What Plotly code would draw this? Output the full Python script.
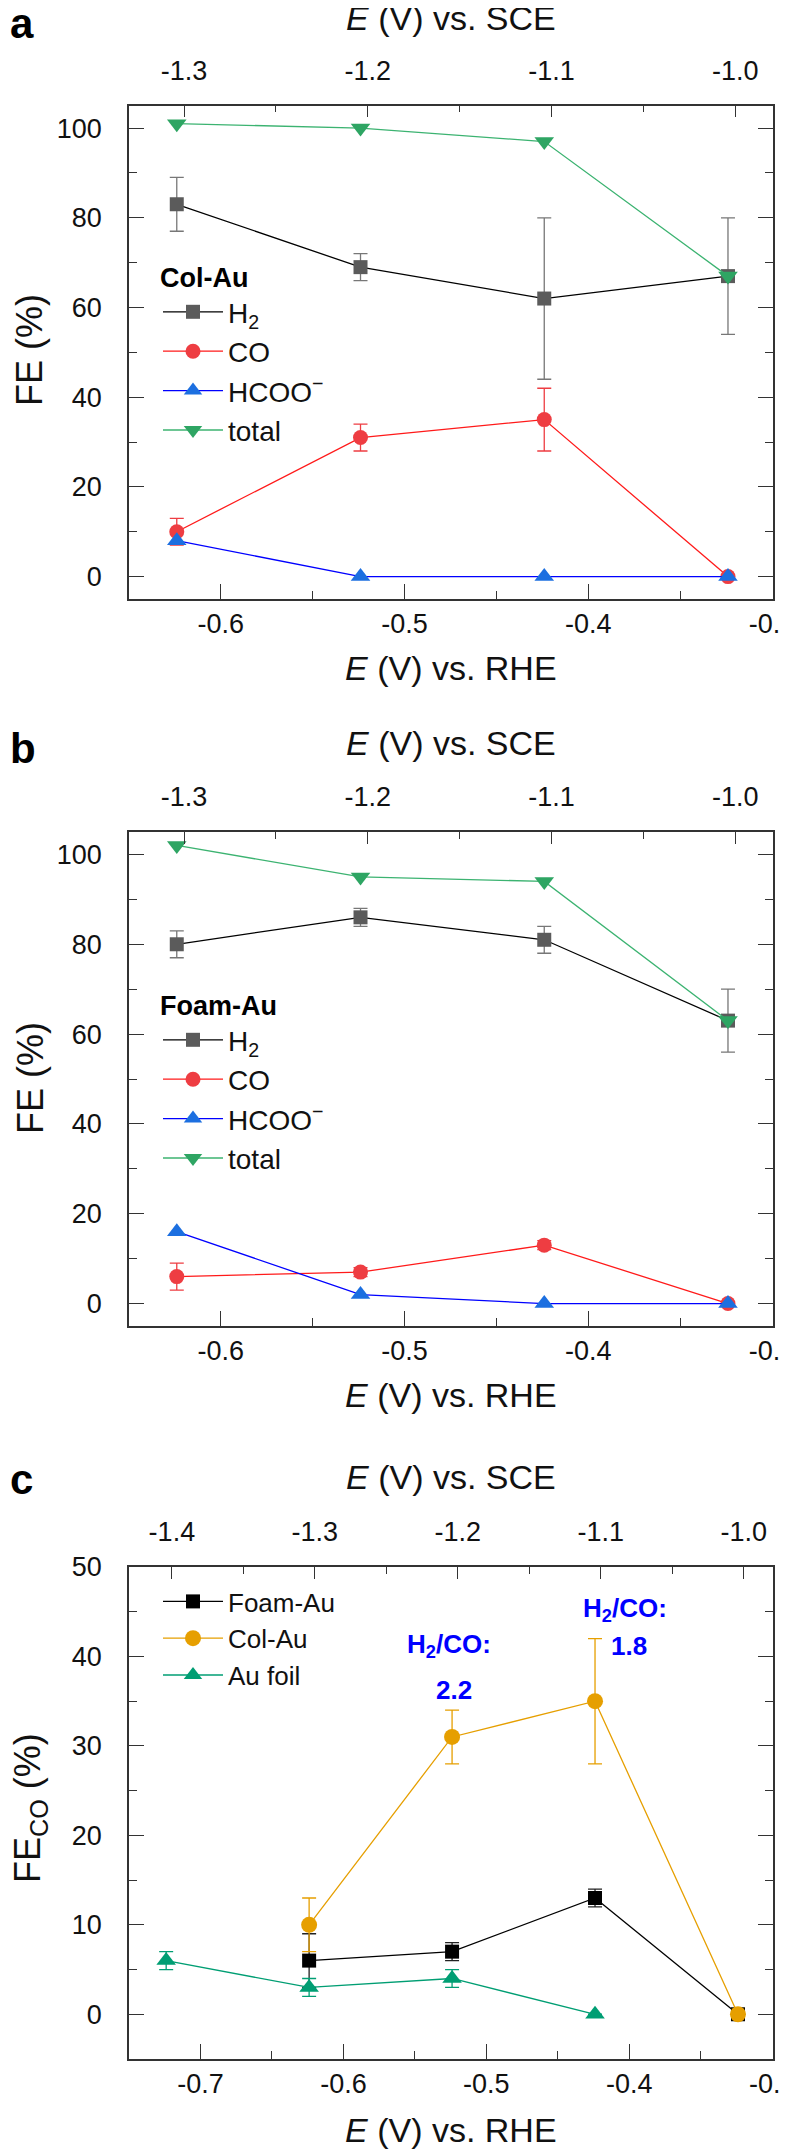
import plotly.graph_objects as go

W, H = 788, 2150

# ---------------- data ----------------
RHE = [-0.624, -0.524, -0.424, -0.324]          # E vs RHE (V)
RHE_FOIL = [-0.724, -0.624, -0.524, -0.424]     # Au foil potentials
SCE_OFFSET = 0.68                               # E(SCE) = E(RHE) - offset

# panel a : Col-Au
a_h2 = [83, 69, 62, 67]
a_h2_err = [6, 3, 18, 13]
a_co = [10, 31, 35, 0]
a_co_err = [3, 3, 7, 0]
a_hcoo = [8, 0, 0, 0]
a_total = [101, 100, 97, 67]

# panel b : Foam-Au
b_h2 = [80, 86, 81, 63]
b_h2_err = [3, 2, 3, 7]
b_co = [6, 7, 13, 0]
b_co_err = [3, 1, 1, 0]
b_hcoo = [16, 2, 0, 0]
b_total = [102, 95, 94, 63]

# panel c : FE_CO comparison
c_foam = [6, 7, 13, 0]
c_foam_err = [3, 1, 1, 0]
c_col = [10, 31, 35, 0]
c_col_err = [3, 3, 7, 0]
c_foil = [6, 3, 4, 0]
c_foil_err = [1, 1, 1, 0]

# H2/CO ratio labels (panel c), placed above the Col-Au points
ratio_labels = ["2.2", "1.8"]
ratio_x = [-0.526, -0.403]
ratio_y_head = [41.2, 45.3]
ratio_y_val = [36.2, 41.2]

rhe_ticks_ab = [-0.6, -0.5, -0.4, -0.3]
rhe_text_ab = ["-0.6", "-0.5", "-0.4", "-0.3"]
sce_ticks_ab = [-1.3, -1.2, -1.1, -1.0]
sce_text_ab = ["-1.3", "-1.2", "-1.1", "-1.0"]
rhe_ticks_c = [-0.7, -0.6, -0.5, -0.4, -0.3]
rhe_text_c = ["-0.7", "-0.6", "-0.5", "-0.4", "-0.3"]
sce_ticks_c = [-1.4, -1.3, -1.2, -1.1, -1.0]
sce_text_c = ["-1.4", "-1.3", "-1.2", "-1.1", "-1.0"]

# ---------------- style ----------------
FONT = "Liberation Sans, Arial, sans-serif"
AX = "#333333"
C_H2_M, C_H2_L, C_H2_E = "#5b5b5b", "#000000", "#777777"
C_CO_M, C_CO_L = "#ee3d42", "#ff1a1a"
C_HC_M, C_HC_L = "#1c6fe0", "#0000ff"
C_TO_M, C_TO_L = "#2ea563", "#3cb371"
C_FOAM = "#000000"
C_COL = "#e69f00"
C_FOIL = "#009e73"


def px(x):
    return x / W


def py(y):
    return 1 - y / H


XDOM = [px(121), px(765)]
YDOM = {
    "a": [py(591), py(97.7)],
    "b": [py(1318), py(824)],
    "c": [py(2051), py(1559)],
}

fig = go.Figure()


def series(x, y, name, mc, lc, sym, size, xa, ya, legend, err=None, ecol=None, group=None):
    kw = {}
    if err is not None:
        kw["error_y"] = dict(type="data", array=err, visible=True,
                             color=ecol or mc, thickness=1.3, width=7)
    fig.add_trace(go.Scatter(
        x=x, y=y, name=name, mode="lines+markers",
        line=dict(color=lc, width=1.3),
        marker=dict(color=mc, size=size, symbol=sym, line=dict(width=0)),
        xaxis=xa, yaxis=ya, legend=legend, legendgroup=group, hoverinfo="skip",
        **kw))


def top_dummy(x_rhe, y, xa, ya):
    fig.add_trace(go.Scatter(
        x=[v - SCE_OFFSET for v in x_rhe], y=y, mode="markers",
        marker=dict(opacity=0), showlegend=False, hoverinfo="skip",
        xaxis=xa, yaxis=ya))


# panel a
series(RHE, a_h2, "H<sub>2</sub>", C_H2_M, C_H2_L, "square", 14, "x", "y", "legend", a_h2_err, C_H2_E, "a1")
series(RHE, a_co, "CO", C_CO_M, C_CO_L, "circle", 15, "x", "y", "legend", a_co_err, C_CO_M, "a2")
series(RHE, a_hcoo, "HCOO<sup>−</sup>", C_HC_M, C_HC_L, "triangle-up", 17, "x", "y", "legend", None, None, "a3")
series(RHE, a_total, "total", C_TO_M, C_TO_L, "triangle-down", 17, "x", "y", "legend", None, None, "a4")
top_dummy(RHE, a_total, "x2", "y")

# panel b
series(RHE, b_h2, "H<sub>2</sub>", C_H2_M, C_H2_L, "square", 14, "x3", "y2", "legend2", b_h2_err, C_H2_E, "b1")
series(RHE, b_co, "CO", C_CO_M, C_CO_L, "circle", 15, "x3", "y2", "legend2", b_co_err, C_CO_M, "b2")
series(RHE, b_hcoo, "HCOO<sup>−</sup>", C_HC_M, C_HC_L, "triangle-up", 17, "x3", "y2", "legend2", None, None, "b3")
series(RHE, b_total, "total", C_TO_M, C_TO_L, "triangle-down", 17, "x3", "y2", "legend2", None, None, "b4")
top_dummy(RHE, b_total, "x4", "y2")

# panel c
series(RHE, c_foam, "Foam-Au", C_FOAM, C_FOAM, "square", 14, "x5", "y3", "legend3", c_foam_err, "#222222")
series(RHE, c_col, "Col-Au", C_COL, C_COL, "circle", 16, "x5", "y3", "legend3", c_col_err, C_COL)
series(RHE_FOIL, c_foil, "Au foil", C_FOIL, C_FOIL, "triangle-up", 17, "x5", "y3", "legend3", c_foil_err, C_FOIL)
top_dummy(RHE, c_col, "x6", "y3")

TICKFONT = dict(family=FONT, size=27, color="#111111")


def xbottom(rng, tv, tt, ya):
    return dict(domain=XDOM, anchor=ya, range=rng, tickmode="array", tickvals=tv, ticktext=tt,
                ticks="inside", ticklen=15, tickwidth=1.3, tickcolor=AX,
                minor=dict(ticks="inside", ticklen=8, dtick=0.05, tick0=0, tickcolor=AX, tickwidth=1.3),
                showline=True, linecolor=AX, linewidth=1.5, mirror=False,
                showgrid=False, zeroline=False, tickfont=TICKFONT, ticklabelstandoff=0,
                ticklabeloverflow="allow")


def xtop(rng, tv, tt, over, ya):
    return dict(overlaying=over, side="top", anchor=ya, range=rng, tickmode="array", tickvals=tv,
                ticktext=tt, ticks="inside", ticklen=12, tickwidth=1.3, tickcolor=AX,
                minor=dict(ticks="inside", ticklen=7, dtick=0.05, tick0=0, tickcolor=AX, tickwidth=1.3),
                showline=True, linecolor=AX, linewidth=1.5,
                showgrid=False, zeroline=False, tickfont=TICKFONT, ticklabelstandoff=13,
                ticklabeloverflow="allow")


def yleft(dom, rng, tv, minor_dt, xa):
    return dict(domain=dom, anchor=xa, range=rng, tickmode="array", tickvals=tv,
                ticks="inside", ticklen=15, tickwidth=1.3, tickcolor=AX,
                minor=dict(ticks="inside", ticklen=8, dtick=minor_dt, tick0=0, tickcolor=AX, tickwidth=1.3),
                showline=True, linecolor=AX, linewidth=1.5, mirror="ticks",
                showgrid=False, zeroline=False, tickfont=TICKFONT, ticklabelstandoff=20)


fe_ticks = [0, 20, 40, 60, 80, 100]
feco_ticks = [0, 10, 20, 30, 40, 50]

LEGFONT = dict(family=FONT, size=28, color="#111111")
LEGFONT_C = dict(family=FONT, size=26, color="#111111")
LEGTITLE = dict(family=FONT, size=27, color="#000000")
RX = -0.2995  # right end of RHE range (keeps the -0.3 tick)

fig.update_layout(
    width=W, height=H, autosize=False,
    template="none",
    paper_bgcolor="white", plot_bgcolor="white",
    margin=dict(l=0, r=0, t=0, b=0),
    font=dict(family=FONT, color="#111111"),
    xaxis=xbottom([-0.65, RX], rhe_ticks_ab, rhe_text_ab, "y"),
    xaxis2=xtop([-0.65 - SCE_OFFSET, RX - SCE_OFFSET], sce_ticks_ab, sce_text_ab, "x", "y"),
    yaxis=yleft(YDOM["a"], [-5, 105], fe_ticks, 10, "x"),
    xaxis3=xbottom([-0.65, RX], rhe_ticks_ab, rhe_text_ab, "y2"),
    xaxis4=xtop([-0.65 - SCE_OFFSET, RX - SCE_OFFSET], sce_ticks_ab, sce_text_ab, "x3", "y2"),
    yaxis2=yleft(YDOM["b"], [-5, 105], fe_ticks, 10, "x3"),
    xaxis5=xbottom([-0.75, RX], rhe_ticks_c, rhe_text_c, "y3"),
    xaxis6=xtop([-0.75 - SCE_OFFSET, RX - SCE_OFFSET], sce_ticks_c, sce_text_c, "x5", "y3"),
    yaxis3=yleft(YDOM["c"], [-5, 50], feco_ticks, 5, "x5"),
    legend=dict(x=px(150), y=py(244), xanchor="left", yanchor="top", bgcolor="rgba(0,0,0,0)",
                font=LEGFONT, tracegroupgap=0, itemwidth=60,
                title=dict(text="<b>Col-Au</b>", font=LEGTITLE, side="top")),
    legend2=dict(x=px(150), y=py(244 + 728), xanchor="left", yanchor="top", bgcolor="rgba(0,0,0,0)",
                 font=LEGFONT, tracegroupgap=0, itemwidth=60,
                 title=dict(text="<b>Foam-Au</b>", font=LEGTITLE, side="top")),
    legend3=dict(x=px(150), y=py(1570), xanchor="left", yanchor="top", bgcolor="rgba(0,0,0,0)",
                 font=LEGFONT_C, itemwidth=60),
    showlegend=True,
)

TITLEFONT = dict(family=FONT, size=34, color="#111111")
YTFONT = dict(family=FONT, size=36, color="#111111")
PANELFONT = dict(family=FONT, size=42, color="#000000")


def ann(text, x, y, font, angle=0, xanchor="center"):
    fig.add_annotation(text=text, x=px(x), y=py(y), xref="paper", yref="paper",
                       showarrow=False, font=font, textangle=angle,
                       xanchor=xanchor, yanchor="middle")


CX = 443
for top_t, bot_t, ytxt, ytitle_y, lab, lab_y in [
    (10, 660, "FE (%)", 342, "a", 15),
    (735, 1387, "FE (%)", 1070, "b", 741),
    (1469, 2122, "FE<sub>CO</sub> (%)", 1800, "c", 1471),
]:
    ann("<i>E</i> (V) vs. SCE", CX, top_t, TITLEFONT)
    ann("<i>E</i> (V) vs. RHE", CX, bot_t, TITLEFONT)
    ann(ytxt, 22, ytitle_y, YTFONT, angle=-90)
    ann("<b>%s</b>" % lab, 0, lab_y, PANELFONT, xanchor="left")

BLUEFONT = dict(family=FONT, size=26, color="#0000ff")
for lab, xv, yh, yv in zip(ratio_labels, ratio_x, ratio_y_head, ratio_y_val):
    fig.add_annotation(text="<b>H<sub>2</sub>/CO:</b>", x=xv, y=yh, xref="x5", yref="y3",
                       showarrow=False, font=BLUEFONT, xanchor="center", yanchor="middle")
    fig.add_annotation(text="<b>%s</b>" % lab, x=xv + 0.003, y=yv, xref="x5", yref="y3",
                       showarrow=False, font=BLUEFONT, xanchor="center", yanchor="middle")

fig.write_html("out.html")
